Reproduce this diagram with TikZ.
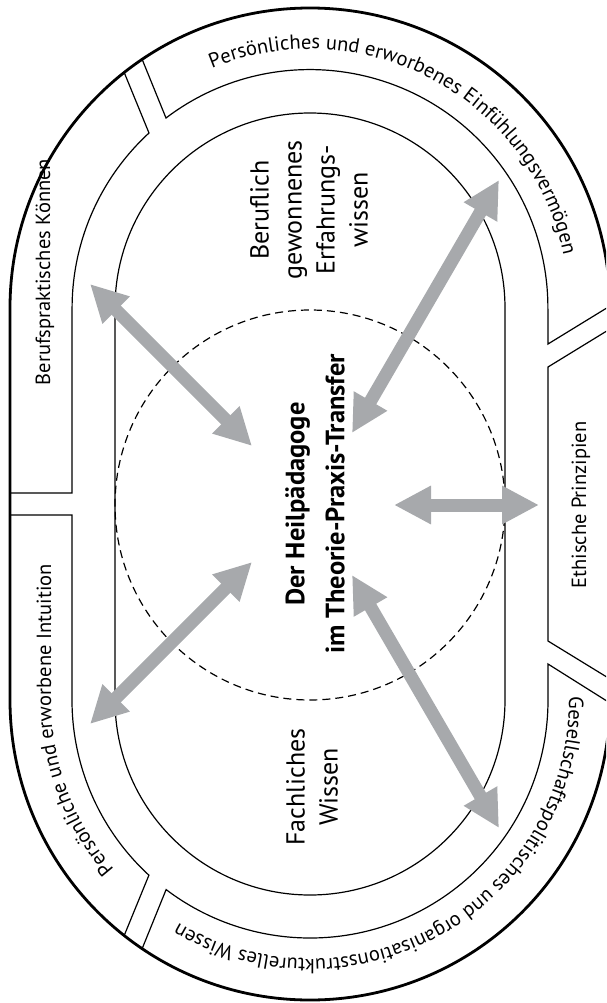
\documentclass[tikz,border=0pt]{standalone}
\usepackage{fontspec}
\setmainfont{PT Sans}
\usetikzlibrary{arrows.meta,decorations.text}
\definecolor{arrowgray}{RGB}{167,169,172}

\begin{document}
\begin{tikzpicture}[x=1pt,y=-1pt,
    >={Triangle[length=37pt,width=36pt]},
    thinline/.style={line width=1.2pt},
    transfer/.style={line width=13pt,draw=arrowgray,<->},
    ringlabel/.style={font=\fontsize{20.5}{24}\selectfont},
    fieldlabel/.style={rotate=90,align=center,font=\fontsize{26}{33}\selectfont}]
    \clip (0,0) rectangle (606,1003);
    % Draw the outer border
    \draw[line width=2.8pt] (10,308) arc[start angle=180,end angle=360,radius=300]
        -- (610,700) arc[start angle=0,end angle=180,radius=300] -- cycle;
    % Draw the inner field
    \draw[thinline] (115,308) arc[start angle=180,end angle=360,radius=195]
        -- (505,700) arc[start angle=0,end angle=180,radius=195] -- cycle;
    % Draw the five segments of the ring
    \draw[thinline] (124,72) -- (149,133) arc[start angle=227.4,end angle=180,radius=238] -- (72,493) -- (10,493);
    \draw[thinline] (142,59) -- (166,118) arc[start angle=232.8,end angle=360,radius=238] -- (548,344) -- (610,306);
    \draw[thinline] (610,329) -- (548,367) -- (548,641) -- (610,679);
    \draw[thinline] (610,703) -- (548,664) -- (548,700) arc[start angle=0,end angle=127.2,radius=238] -- (142,949);
    \draw[thinline] (10,515) -- (72,515) -- (72,700) arc[start angle=180,end angle=132.6,radius=238] -- (124,936);
    % Draw the dashed circle
    \draw[thinline,dash pattern=on 8pt off 5pt] (310,505) circle[radius=195];
    % Labels in the ring
    \node[ringlabel,rotate=90,anchor=base] (koennen) at (50,272) {Berufspraktisches Können};
    \node[ringlabel,rotate=90,anchor=base] (ethik) at (586,505) {Ethische Prinzipien};
    \path[decorate,decoration={text along path,text align=center,
        text={|\fontsize{20.5}{24}\selectfont|Persönliches und erworbenes Einfühlungsvermögen}}]
        (310,308) ++(240:259) arc[start angle=240,end angle=356,radius=259];
    \path[decorate,decoration={text along path,text align=center,
        text={|\fontsize{20.5}{24}\selectfont|Gesellschaftspolitisches und organisationsstrukturelles Wissen}}]
        (569,658) -- (569,700) arc[start angle=0,end angle=129,radius=259];
    \path[decorate,decoration={text along path,text align=center,
        text={|\fontsize{20.5}{24}\selectfont|Persönliche und erworbene Intuition}}]
        (310,700) ++(126:259) arc[start angle=126,end angle=180,radius=259] -- (51,505);
    % Labels in the inner field
    \node[fieldlabel] (erfahrung) at (309,210) {Beruflich\\gewonnenes\\Erfahrungs-\\wissen};
    \node[fieldlabel] (fachwissen) at (312,787) {Fachliches\\Wissen};
    \node[fieldlabel,font=\bfseries\fontsize{26.5}{40}\selectfont] (paedagoge) at (315,504)
        {Der Heilpädagoge\\im Theorie-Praxis-Transfer};
    % Arrow ends
    \coordinate (k1) at (90,284);
    \coordinate (k2) at (252,446);
    \coordinate (e1) at (499,180);
    \coordinate (e2) at (352,433);
    \coordinate (p1) at (539,505);
    \coordinate (p2) at (394,505);
    \coordinate (i1) at (90,724);
    \coordinate (i2) at (252,562);
    \coordinate (g1) at (499,828);
    \coordinate (g2) at (352,575);
    % Draw the transfer arrows
    \draw[transfer] (k1) -- (k2);
    \draw[transfer] (e1) -- (e2);
    \draw[transfer] (p1) -- (p2);
    \draw[transfer] (i1) -- (i2);
    \draw[transfer] (g1) -- (g2);
\end{tikzpicture}
\end{document}
